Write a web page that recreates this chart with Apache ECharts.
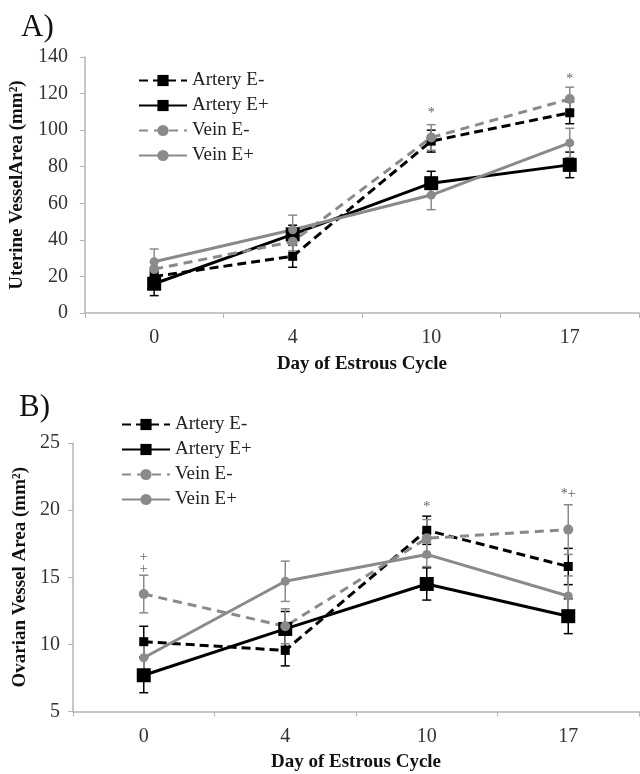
<!DOCTYPE html>
<html>
<head>
<meta charset="utf-8">
<script src="https://cdn.jsdelivr.net/npm/echarts@6/dist/echarts.min.js"></script>
<style>
  html, body { margin: 0; padding: 0; background: #fff; }
  #chart { width: 640px; height: 774px; }
</style>
</head>
<body>
<div id="chart"></div>
<script>
// days of the estrous cycle
const days = ['0', '4', '10', '17'];

// A) uterine vessel area (mm2)
const uterArteryEminus = [20, 31, 94, 109.5];
const uterArteryEplus = [16, 43, 71, 81];
const uterVeinEminus = [24, 39, 96, 117];
const uterVeinEplus = [28, 45.5, 64.5, 93];
const uterArteryEminusErr = [3, 6, 6, 6];
const uterArteryEplusErr = [6.5, 5, 6.5, 7];
const uterVeinEminusErr = [4, 5, 7, 6.5];
const uterVeinEplusErr = [7, 8, 8, 8];
const uterMarks = [['10', 109, '*'], ['17', 128, '*']];

// B) ovarian vessel area (mm2)
const ovArteryEminus = [10.2, 9.55, 18.5, 15.8];
const ovArteryEplus = [7.7, 11.15, 14.5, 12.1];
const ovVeinEminus = [13.75, 11.35, 17.9, 18.55];
const ovVeinEplus = [9.0, 14.7, 16.7, 13.6];
const ovArteryEminusErr = [1.15, 1.15, 1.05, 1.35];
const ovArteryEplusErr = [1.3, 1.3, 1.2, 1.3];
const ovVeinEminusErr = [1.4, 1.3, 1.4, 1.85];
const ovVeinEplusErr = [1.0, 1.5, 0.9, 1.5];
const ovMarks = [['0', 16.45, '+'], ['0', 15.6, '+'], ['10', 20.2, '*'], ['17', 21.2, '*+']];

const names = ['Artery E-', 'Artery E+', 'Vein E-', 'Vein E+'];
const SERIF = 'Liberation Serif';
const GRAY = '#8a8a8a';
const AXIS = '#b4b4b4';

const styles = [
  { color: '#000', symbol: 'rect', size: 9, type: [9, 5] },
  { color: '#000', symbol: 'rect', size: 14, type: 'solid' },
  { color: GRAY, symbol: 'circle', size: 10, type: [9, 6] },
  { color: GRAY, symbol: 'circle', size: 9, type: 'solid' }
];

function lineSeries(idx, values, axis) {
  const s = styles[idx];
  return {
    name: names[idx],
    type: 'line',
    xAxisIndex: axis,
    yAxisIndex: axis,
    data: values,
    symbol: s.symbol,
    symbolSize: s.size,
    showAllSymbol: true,
    itemStyle: { color: s.color },
    lineStyle: { color: s.color, width: 3, type: s.type },
    z: 3
  };
}

function errorSeries(idx, values, errs, axis) {
  const color = styles[idx].color;
  return {
    type: 'custom',
    xAxisIndex: axis,
    yAxisIndex: axis,
    data: values.map((v, i) => [i, v - errs[i], v + errs[i]]),
    encode: { x: 0, y: [1, 2] },
    z: 2,
    renderItem: function (params, api) {
      const lo = api.coord([api.value(0), api.value(1)]);
      const hi = api.coord([api.value(0), api.value(2)]);
      const w = 4.5;
      const st = { stroke: color, lineWidth: 1.5 };
      return {
        type: 'group',
        children: [
          { type: 'line', shape: { x1: lo[0], y1: lo[1], x2: hi[0], y2: hi[1] }, style: st },
          { type: 'line', shape: { x1: lo[0] - w, y1: lo[1], x2: lo[0] + w, y2: lo[1] }, style: st },
          { type: 'line', shape: { x1: hi[0] - w, y1: hi[1], x2: hi[0] + w, y2: hi[1] }, style: st }
        ]
      };
    }
  };
}

function markSeries(marks, axis) {
  return {
    type: 'custom',
    xAxisIndex: axis,
    yAxisIndex: axis,
    data: marks,
    z: 4,
    renderItem: function (params, api) {
      const p = api.coord([api.value(0), api.value(1)]);
      return {
        type: 'text',
        x: p[0],
        y: p[1],
        style: {
          text: marks[params.dataIndex][2],
          fill: '#666',
          font: '14px ' + SERIF,
          align: 'center',
          verticalAlign: 'middle'
        }
      };
    }
  };
}

function xAxis(grid, gap) {
  return {
    type: 'category',
    gridIndex: grid,
    data: days,
    boundaryGap: true,
    name: 'Day of Estrous Cycle',
    nameLocation: 'middle',
    nameGap: gap,
    nameTextStyle: { fontFamily: SERIF, fontWeight: 'bold', fontSize: 19, color: '#111' },
    axisLine: { lineStyle: { color: AXIS, width: 1.5 } },
    axisTick: { show: true, interval: 0, length: 5, lineStyle: { color: AXIS } },
    axisLabel: { fontFamily: SERIF, fontSize: 20, color: '#333', margin: 15 }
  };
}

function yAxis(grid, min, max, step, name, gap, margin) {
  return {
    type: 'value',
    gridIndex: grid,
    min: min,
    max: max,
    interval: step,
    name: name,
    nameLocation: 'middle',
    nameGap: gap,
    nameTextStyle: { fontFamily: SERIF, fontWeight: 'bold', fontSize: 19, color: '#111' },
    splitLine: { show: false },
    axisLine: { show: true, lineStyle: { color: AXIS, width: 1.5 } },
    axisTick: { show: true, length: 5, lineStyle: { color: AXIS } },
    axisLabel: { fontFamily: SERIF, fontSize: 20, color: '#333', margin: margin }
  };
}

function legend(left, top) {
  return {
    data: names,
    orient: 'vertical',
    left: left,
    top: top,
    itemWidth: 48,
    itemHeight: 14,
    itemGap: 6,
    textStyle: { fontFamily: SERIF, fontSize: 19, color: '#222' }
  };
}

const chart = echarts.init(document.getElementById('chart'));
chart.setOption({
  animation: false,
  backgroundColor: '#fff',
  title: [
    { text: 'A)', left: 16, top: 7, textStyle: { fontFamily: SERIF, fontSize: 31, fontWeight: 'normal', color: '#111' } },
    { text: 'B)', left: 14, top: 387, textStyle: { fontFamily: SERIF, fontSize: 31, fontWeight: 'normal', color: '#111' } }
  ],
  legend: [legend(133, 66), legend(116, 410)],
  grid: [
    { left: 84, top: 57, width: 555, height: 256 },
    { left: 73, top: 443, width: 566, height: 268.5 }
  ],
  xAxis: [xAxis(0, 42), xAxis(1, 41)],
  yAxis: [
    yAxis(0, 0, 140, 20, 'Uterine VesselArea (mm\u00b2)', 52, 17),
    yAxis(1, 5, 25, 5, 'Ovarian Vessel Area (mm\u00b2)', 36, 13)
  ],
  series: [
    errorSeries(0, uterArteryEminus, uterArteryEminusErr, 0),
    errorSeries(1, uterArteryEplus, uterArteryEplusErr, 0),
    errorSeries(2, uterVeinEminus, uterVeinEminusErr, 0),
    errorSeries(3, uterVeinEplus, uterVeinEplusErr, 0),
    lineSeries(0, uterArteryEminus, 0),
    lineSeries(1, uterArteryEplus, 0),
    lineSeries(2, uterVeinEminus, 0),
    lineSeries(3, uterVeinEplus, 0),
    markSeries(uterMarks, 0),
    errorSeries(0, ovArteryEminus, ovArteryEminusErr, 1),
    errorSeries(1, ovArteryEplus, ovArteryEplusErr, 1),
    errorSeries(2, ovVeinEminus, ovVeinEminusErr, 1),
    errorSeries(3, ovVeinEplus, ovVeinEplusErr, 1),
    lineSeries(0, ovArteryEminus, 1),
    lineSeries(1, ovArteryEplus, 1),
    lineSeries(2, ovVeinEminus, 1),
    lineSeries(3, ovVeinEplus, 1),
    markSeries(ovMarks, 1)
  ]
});
</script>
</body>
</html>
